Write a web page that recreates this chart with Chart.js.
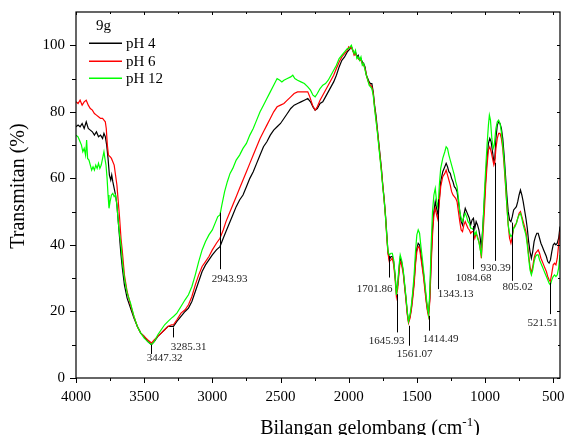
<!DOCTYPE html>
<html>
<head>
<meta charset="utf-8">
<script src="https://cdn.jsdelivr.net/npm/chart.js@4/dist/chart.umd.min.js"></script>
<style>
  html, body { margin: 0; padding: 0; background: #fff; }
  canvas { display: block; }
</style>
</head>
<body>
<canvas id="ftir" width="565" height="435"></canvas>
<script>
// FTIR spectra, sample 9g at three pH values  [wavenumber cm-1, transmittance %]
const ph4Points = [
  [4000,75.5],[3985,76],[3970,75.5],[3955,76.5],[3940,75],[3925,77],[3910,75],[3895,74.5],[3880,74],[3865,73],
  [3850,74],[3835,72.5],[3820,73],[3805,72],[3795,73.5],[3785,72.5],[3775,70],[3765,66],[3755,61],[3745,59.5],
  [3738,61],[3730,59],[3720,57],[3710,55],[3700,52],[3690,47],[3680,42],[3670,37],[3660,33],[3645,28],
  [3625,24],[3600,21],[3575,18],[3550,15.5],[3525,13.5],[3500,12.5],[3475,11],[3447,10],[3425,11],[3400,12.5],
  [3375,13.5],[3350,14.5],[3325,15.5],[3300,15.5],[3285,15.5],[3260,17],[3230,18.5],[3200,20],[3175,21],[3150,23],
  [3125,26],[3100,29],[3075,32],[3050,34],[3025,35.5],[3000,37],[2970,38.5],[2944,39.5],[2920,42],[2900,44],
  [2875,46.5],[2850,49],[2825,51.5],[2800,53.5],[2775,55],[2750,57.5],[2725,60],[2700,62],[2675,64.5],[2650,67],
  [2625,69.5],[2600,71],[2575,73],[2550,74.5],[2525,75.5],[2500,76.5],[2475,78],[2450,79.5],[2425,81],[2400,82],
  [2375,82.5],[2350,83],[2325,83.5],[2300,84],[2280,83],[2262,81.5],[2246,80.5],[2230,81],[2210,82.5],[2190,83],
  [2170,84.5],[2150,86],[2130,87.5],[2110,89],[2090,91],[2070,93.5],[2050,95.5],[2030,96.5],[2010,98],[2000,98.5],
  [1990,99],[1980,99.5],[1970,98.5],[1960,97.5],[1950,98],[1940,96.5],[1930,97],[1920,95.5],[1910,96],[1900,95],
  [1890,94.5],[1880,93.5],[1870,91],[1860,90],[1850,89],[1840,88.5],[1830,88.5],[1820,86],[1810,82],[1800,79],
  [1790,75],[1780,71],[1770,67],[1760,63],[1750,58],[1740,54],[1730,49],[1720,43],[1712,38],[1702,35.5],
  [1690,36.5],[1680,36.5],[1670,35],[1660,31],[1650,26],[1640,28],[1630,33],[1622,36],[1612,35],[1600,32],
  [1590,28],[1580,24],[1570,19.5],[1561,17],[1550,18.5],[1540,21],[1530,25],[1520,29],[1510,35],[1500,39],
  [1490,40.5],[1480,40],[1470,37],[1460,34],[1450,31],[1440,27],[1430,23],[1420,20],[1414,19.5],[1405,24],
  [1395,36],[1385,45],[1375,50],[1365,53],[1355,51],[1345,49],[1335,54],[1325,59],[1310,62],[1295,63.5],
  [1285,64.5],[1275,63.5],[1265,62],[1255,61.5],[1245,60],[1235,59],[1225,57.5],[1215,57],[1205,56],[1195,53],
  [1185,50],[1175,47],[1165,46],[1155,49],[1145,51],[1135,50],[1125,49],[1115,48],[1105,46],[1095,47.5],
  [1085,48],[1075,45],[1065,47],[1055,46],[1045,44.5],[1035,42],[1027,39],[1015,46],[1005,53],[995,60],
  [985,66],[975,70.5],[965,72],[955,71],[945,68],[935,65],[928,66],[920,72],[910,76],[900,77],
  [890,76.5],[880,75],[870,72],[860,67],[850,61],[840,55],[830,50],[820,47.5],[810,47],[800,48.5],
  [790,50.5],[780,51],[770,51.5],[760,53],[750,55],[740,56.5],[730,55],[720,53],[710,50.5],[700,48],
  [690,45],[680,41],[670,38],[660,36],[650,38],[640,41],[630,42.5],[620,43.5],[610,43.5],[600,42],
  [590,40.5],[580,39.5],[570,38.5],[560,37.5],[550,36.5],[540,35],[530,34.5],[520,35.5],[510,38],[500,40],
  [490,40.5],[480,40],[470,40.5],[460,42],[450,45.5]
];

const ph6Points = [
  [4000,83],[3985,82.5],[3970,83.5],[3955,82],[3940,83],[3925,83.5],[3910,82],[3895,81],[3880,80.5],[3865,79.5],
  [3850,79],[3835,78.5],[3820,78],[3805,78],[3795,77.5],[3785,77],[3778,75],[3770,70],[3762,67],[3750,66.5],
  [3740,66],[3730,65],[3720,64],[3710,61],[3700,58],[3690,53],[3680,48],[3670,42],[3660,38],[3645,31],
  [3625,26],[3600,22],[3575,18.5],[3550,15.5],[3525,13.5],[3500,12.5],[3475,11.5],[3447,10.5],[3425,11.5],[3400,12.5],
  [3375,13.5],[3350,14.5],[3325,15.5],[3300,16],[3285,16],[3260,17.5],[3230,19.5],[3200,20.5],[3175,22],[3150,24.5],
  [3125,28],[3100,31],[3075,33.5],[3050,35],[3025,36.5],[3000,38.5],[2970,40.5],[2944,42],[2920,44.5],[2900,47],
  [2875,49.5],[2850,52],[2825,54.5],[2800,57],[2775,59.5],[2750,62],[2725,64.5],[2700,67],[2675,69.5],[2650,72],
  [2625,74],[2600,76],[2575,78],[2550,80],[2525,81.5],[2500,82],[2475,82.5],[2450,83.5],[2425,84.5],[2400,85.5],
  [2375,86],[2350,86],[2325,86],[2300,86],[2285,84.5],[2265,82],[2246,80.5],[2230,81.5],[2210,83.5],[2190,85],
  [2170,86.5],[2150,88],[2130,89.5],[2110,91],[2090,93],[2070,95],[2050,96.5],[2030,97.5],[2010,98.5],[2000,99.5],
  [1990,99],[1980,99.5],[1970,98.5],[1960,97],[1950,97.5],[1940,96.5],[1930,96],[1920,95.5],[1910,95.5],[1900,94.5],
  [1890,94],[1880,93],[1870,91],[1860,89.5],[1850,88.5],[1840,88],[1830,87.5],[1820,85.5],[1810,81.5],[1800,78],
  [1790,74.5],[1780,70.5],[1770,66.5],[1760,62.5],[1750,58],[1740,53.5],[1730,48.5],[1720,42],[1712,37.5],[1702,35],
  [1690,35.5],[1680,36],[1670,34],[1660,30],[1650,24.5],[1640,27],[1630,32],[1622,35],[1612,34],[1600,31.5],
  [1590,27.5],[1580,23.5],[1570,19],[1561,16.5],[1550,18],[1540,20.5],[1530,24],[1520,28],[1510,34],[1500,38],
  [1490,39.5],[1480,39],[1470,36],[1460,33],[1450,30],[1440,26],[1430,22.5],[1420,19.5],[1414,18.5],[1405,23],
  [1395,34],[1385,43],[1375,49],[1365,51],[1355,49],[1345,47.5],[1335,53],[1325,57.5],[1310,60.5],[1295,61.5],
  [1285,62.5],[1275,61],[1265,59.5],[1255,58],[1245,56],[1235,55],[1225,54.5],[1215,54],[1205,53],[1195,50],
  [1185,47],[1175,44.5],[1165,44],[1155,46],[1145,47],[1135,46],[1125,45],[1115,44.5],[1105,43.5],[1095,44],
  [1085,44],[1075,42],[1065,43.5],[1055,42.5],[1045,41],[1035,39],[1027,36],[1015,43],[1005,50],[995,58],
  [985,64],[975,68.5],[965,69.5],[955,68],[945,66],[935,64],[928,65],[920,69],[910,72],[900,73.5],
  [890,73.5],[880,72],[870,69],[860,64],[850,58],[840,52],[830,46],[820,42],[810,40.5],[800,42.5],
  [790,45],[780,46],[770,46.5],[760,48],[750,49.5],[740,50],[730,48.5],[720,47],[710,45.5],[700,44],
  [690,41],[680,37],[670,33.5],[660,31.5],[650,33.5],[640,36],[630,37.5],[620,38],[610,38.5],[600,37.5],
  [590,36],[580,35],[570,34],[560,33],[550,32],[540,30.5],[530,29.5],[521,29],[510,31.5],[500,34],
  [490,34.5],[480,34],[470,36],[460,40],[450,44]
];

const ph12Points = [
  [4000,73],[3985,72.5],[3970,71],[3960,70],[3950,68],[3940,69],[3930,67],[3922,71.5],[3915,66],[3905,65.5],
  [3895,64],[3885,62.5],[3875,63.5],[3865,62.5],[3855,64],[3845,63],[3835,64.5],[3825,63],[3815,64],[3805,66],
  [3795,68],[3788,66],[3780,64],[3772,60],[3765,55],[3758,51],[3750,53],[3740,55],[3730,55.5],[3720,54.5],
  [3710,55],[3700,52],[3690,47],[3680,43],[3670,40],[3660,35],[3645,30],[3625,25.5],[3600,22.5],[3575,18.5],
  [3550,15.5],[3525,13.5],[3500,12],[3475,11],[3447,10],[3425,11],[3400,13],[3375,14.5],[3350,16],[3325,17],
  [3300,18],[3285,18.5],[3260,19.5],[3230,21.5],[3200,23.5],[3175,25],[3150,27.5],[3125,31],[3100,35],[3075,38.5],
  [3050,41],[3025,43],[3000,44.5],[2975,47],[2960,48.5],[2944,49],[2930,52],[2910,56],[2890,59],[2870,61.5],
  [2850,63],[2825,65.5],[2800,67],[2775,69],[2750,70.5],[2725,73],[2700,75],[2675,77.5],[2650,80],[2625,82],
  [2600,84],[2575,86],[2550,88],[2525,90],[2505,89.5],[2490,89],[2475,89.5],[2450,90],[2425,90.5],[2410,91],
  [2395,90],[2375,89.5],[2350,89],[2325,88.5],[2300,87.5],[2280,86.5],[2262,85],[2246,84.5],[2230,85.5],[2210,87],
  [2190,88],[2170,88.5],[2150,89.5],[2130,91],[2110,92.5],[2090,94],[2070,96],[2050,97],[2030,98],[2010,99],
  [2000,99],[1990,99.5],[1980,100],[1970,98.5],[1960,97.5],[1950,98.5],[1940,96],[1930,96.5],[1920,95.5],[1910,96.5],
  [1900,94],[1890,94.5],[1880,92.5],[1870,91],[1860,89.5],[1850,88],[1840,87.5],[1830,87],[1820,85],[1810,81],
  [1800,77.5],[1790,74],[1780,70],[1770,66],[1760,62],[1750,57.5],[1740,53.5],[1730,48.5],[1720,42.5],[1712,38],
  [1702,37],[1690,37.5],[1680,37.5],[1670,35.5],[1660,31],[1650,25],[1640,28.5],[1630,34],[1622,37],[1612,35.5],
  [1600,32.5],[1590,28.5],[1580,24.5],[1570,20],[1561,17],[1550,19],[1540,22],[1530,26],[1520,31],[1510,38],
  [1500,43],[1490,44.5],[1480,43.5],[1470,39.5],[1460,36],[1450,32],[1440,28],[1430,24],[1420,20.5],[1414,19],
  [1405,26],[1395,40],[1385,50],[1375,55],[1365,57],[1355,53],[1345,51],[1335,58],[1325,63],[1310,66],
  [1295,68],[1285,69.5],[1275,69],[1265,67],[1255,65.5],[1245,64],[1235,62.5],[1225,61],[1215,59],[1205,57.5],
  [1195,54],[1185,50],[1175,48],[1165,47],[1155,48.5],[1145,49.5],[1135,48.5],[1125,47],[1115,46.5],[1105,45],
  [1095,45],[1085,44.5],[1075,43],[1065,44],[1055,42],[1045,41],[1035,38.5],[1027,37],[1015,46],[1005,55],
  [995,63],[985,70],[975,76],[968,79],[960,77.5],[950,72],[940,69],[932,70],[920,75],[910,77],
  [900,77.5],[890,76.5],[880,74],[870,70],[860,65],[850,59],[840,52],[830,46],[820,43.5],[810,42.5],
  [800,43],[790,45],[780,45.5],[770,46.5],[760,48],[750,49],[740,49.5],[730,48],[720,46],[710,44.5],
  [700,43],[690,40],[680,36],[670,32.5],[660,31],[650,32.5],[640,35],[630,36.5],[620,37],[610,37],
  [600,35.5],[590,34.5],[580,33.5],[570,32.5],[560,31.5],[550,30.5],[540,29.5],[530,28.5],[521,28],[510,29.5],
  [500,30.5],[490,31],[480,30.5],[470,31],[460,33],[450,37]
];

const seriesNames = ['pH 4', 'pH 6', 'pH 12'];
const seriesColors = ['#000000', '#ff0000', '#00ff00'];
const legendTitle = '9g';

const xTicks = [4000, 3750, 3500, 3250, 3000, 2750, 2500, 2250, 2000, 1750, 1500, 1250, 1000, 750, 500];
const yTicks = [0, 10, 20, 30, 40, 50, 60, 70, 80, 90, 100];

// labelled absorption bands
const peakWaves = [3447.32, 3285.31, 2943.93, 1701.86, 1645.93, 1561.07, 1414.49, 1343.13, 1084.68, 930.39, 805.02, 521.51];

// marker layout: [line top %, line bottom %, label %, label x shift px]
const peakLayout = [
  [10, 7.2, 5.9, 13], [15.2, 12.2, 9.4, 15], [49.7, 32.7, 29.7, 9], [36.7, 30.2, 26.8, -15],
  [25.2, 13.7, 11.2, -11], [15.7, 9.7, 7.2, 5], [18.7, 14.2, 11.7, 11], [53.7, 26.7, 25.2, 17],
  [45.7, 32.7, 30.0, 0], [64.7, 35.2, 33.0, 0], [46.7, 29.2, 27.3, 5], [28.7, 19.2, 16.5, -8]
];

const FONT = "'Liberation Serif', 'Times New Roman', serif";

const series = [ph4Points, ph6Points, ph12Points];

const datasets = series.map((pts, i) => ({
  label: seriesNames[i],
  data: pts.map(p => ({ x: p[0], y: p[1] })),
  borderColor: seriesColors[i],
  borderWidth: 1.2,
  pointRadius: 0,
  tension: 0,
  fill: false,
  order: 2 - i   // green drawn on top
}));

// frame, tick marks, peak markers, legend and axis titles
const decorations = {
  id: 'decorations',
  afterDatasetsDraw(chart) {
    const { ctx, chartArea: a, scales: { x, y } } = chart;
    ctx.save();
    ctx.strokeStyle = '#000';
    ctx.lineWidth = 1;

    // peak markers
    ctx.font = '11px ' + FONT;
    ctx.fillStyle = '#222';
    ctx.textAlign = 'center';
    ctx.textBaseline = 'middle';
    peakWaves.forEach((w, i) => {
      const [top, bottom, lab, dx] = peakLayout[i];
      const px = Math.round(x.getPixelForValue(w)) + 0.5;
      ctx.beginPath();
      ctx.moveTo(px, y.getPixelForValue(top));
      ctx.lineTo(px, y.getPixelForValue(bottom));
      ctx.stroke();
      ctx.fillText(w.toFixed(2), px + dx, y.getPixelForValue(lab));
    });

    // frame
    ctx.lineWidth = 1.2;
    ctx.strokeRect(a.left, a.top, a.right - a.left, a.bottom - a.top);

    // ticks
    ctx.lineWidth = 1;
    xTicks.forEach(v => {
      const px = Math.round(x.getPixelForValue(v)) + 0.5;
      const major = v % 500 === 0;
      ctx.beginPath();
      ctx.moveTo(px, a.bottom);
      ctx.lineTo(px, a.bottom + (major ? 5 : 3));
      ctx.moveTo(px, a.top);
      ctx.lineTo(px, a.top + (major ? 3 : 2));
      ctx.stroke();
    });
    yTicks.forEach(v => {
      const py = Math.round(y.getPixelForValue(v)) + 0.5;
      const major = v % 20 === 0;
      ctx.beginPath();
      ctx.moveTo(a.left, py);
      ctx.lineTo(a.left - (major ? 6 : 4), py);
      ctx.moveTo(a.right, py);
      ctx.lineTo(a.right - (major ? 3 : 2), py);
      ctx.stroke();
    });

    // legend
    ctx.fillStyle = '#000';
    ctx.textAlign = 'left';
    ctx.font = '15px ' + FONT;
    ctx.fillText(legendTitle, 96, 26);
    const legendRows = [43, 61, 78];
    seriesNames.forEach((name, i) => {
      const ly = legendRows[i];
      ctx.fillStyle = seriesColors[i];
      ctx.fillRect(89, ly - 0.5, 33, 1.5);
      ctx.fillStyle = '#000';
      ctx.fillText(name, 126, ly + 1);
    });

    // y title
    ctx.font = '20px ' + FONT;
    ctx.textAlign = 'center';
    ctx.save();
    ctx.translate(19, 186);
    ctx.rotate(-Math.PI / 2);
    ctx.fillText('Transmitan (%)', 0, 0);
    ctx.restore();

    // x title with superscript
    ctx.textBaseline = 'alphabetic';
    ctx.textAlign = 'left';
    const main = 'Bilangan gelombang (cm';
    const sup = '-1';
    ctx.font = '20px ' + FONT;
    const wMain = ctx.measureText(main).width;
    const wClose = ctx.measureText(')').width;
    ctx.font = '13px ' + FONT;
    const wSup = ctx.measureText(sup).width;
    const total = wMain + wSup + wClose;
    const tx = 370 - total / 2;
    const base = 434;
    ctx.font = '20px ' + FONT;
    ctx.fillText(main, tx, base);
    ctx.font = '13px ' + FONT;
    ctx.fillText(sup, tx + wMain, base - 8);
    ctx.font = '20px ' + FONT;
    ctx.fillText(')', tx + wMain + wSup, base);

    ctx.restore();
  }
};

new Chart(document.getElementById('ftir'), {
  type: 'line',
  data: { datasets },
  options: {
    responsive: false,
    animation: false,
    devicePixelRatio: 1,
    layout: { padding: { left: 0, right: 5, top: 12, bottom: 0 } },
    plugins: { legend: { display: false }, tooltip: { enabled: false }, title: { display: false } },
    scales: {
      x: {
        type: 'linear',
        min: 450,
        max: 4000,
        reverse: true,
        grid: { display: false, drawTicks: false },
        border: { display: false },
        afterBuildTicks: s => { s.ticks = xTicks.map(v => ({ value: v })); },
        afterFit: s => { s.height = 57; s.paddingLeft = 0; s.paddingRight = 0; },
        ticks: {
          autoSkip: false,
          maxRotation: 0,
          padding: 10,
          color: '#000',
          font: { family: FONT, size: 15 },
          callback: v => (v % 500 === 0 ? String(v) : '')
        }
      },
      y: {
        min: 0,
        max: 110,
        grid: { display: false, drawTicks: false },
        border: { display: false },
        afterBuildTicks: s => { s.ticks = yTicks.map(v => ({ value: v })); },
        afterFit: s => { s.width = 76; s.paddingTop = 0; s.paddingBottom = 0; },
        ticks: {
          padding: 11,
          color: '#000',
          font: { family: FONT, size: 15 },
          callback: v => (v % 20 === 0 ? String(v) : '')
        }
      }
    }
  },
  plugins: [decorations]
});
</script>
</body>
</html>
